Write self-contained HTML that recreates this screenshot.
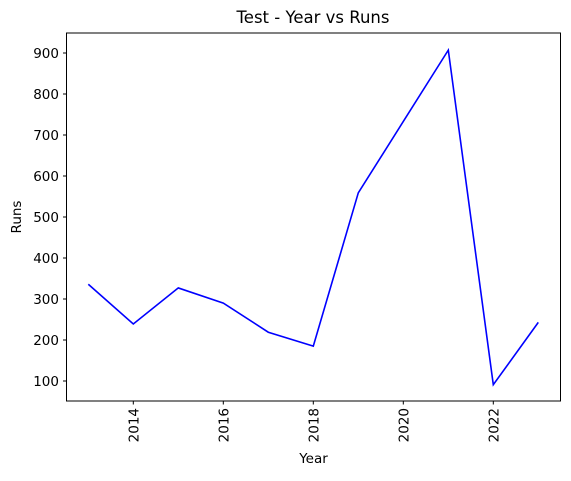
<!DOCTYPE html>
<html><head><meta charset="utf-8"><style>
body{margin:0;background:#fff;}
svg text{font-family:"DejaVu Sans","Liberation Sans",sans-serif;fill:#000;}
</style></head><body>
<svg id="chart" width="571" height="476">
<text x="313" y="23" font-size="16.5" text-anchor="middle">Test - Year vs Runs</text>
<g id="plot"></g>
<rect x="66.5" y="33" width="494" height="368" fill="none" stroke="#000" stroke-width="1"/>
<text x="313.5" y="463" font-size="13.5" text-anchor="middle">Year</text>
<text transform="translate(21,217) rotate(-90)" font-size="13.5" text-anchor="middle">Runs</text>
</svg>
<script>
const years=[2013,2014,2015,2016,2017,2018,2019,2020,2021,2022,2023];
const runs=[336,239,327,290,219,185,559,733,907,91,243];
const xTicks=[2014,2016,2018,2020,2022];
const yTicks=[100,200,300,400,500,600,700,800,900];
const X=v=>88.3+(v-2013)*45;
const Y=v=>381-(v-100)*0.41;
const g=document.getElementById('plot');
const NS='http://www.w3.org/2000/svg';
function mk(t,a){const e=document.createElementNS(NS,t);for(const k in a)e.setAttribute(k,a[k]);g.appendChild(e);return e;}
xTicks.forEach(t=>{
 const l=mk('line',{x1:X(t),x2:X(t),y1:401,y2:404.5,stroke:'#000'});
 
 
 const tx=mk('text',{transform:`translate(${X(t)+5},408) rotate(-90)`,'font-size':13.5,'text-anchor':'end'});
 tx.textContent=t;
 
 
});
yTicks.forEach(t=>{
 const l=mk('line',{x1:63,x2:66.5,y1:Y(t),y2:Y(t),stroke:'#000'});
 
 
 const tx=mk('text',{x:59,y:Y(t)+5,'font-size':13.5,'text-anchor':'end'});
 tx.textContent=t;
 
 
});
const p=mk('polyline',{points:years.map((y,i)=>X(y)+','+Y(runs[i])).join(' '),fill:'none',stroke:'#0000ff','stroke-width':1.6});


</script>
</body></html>
